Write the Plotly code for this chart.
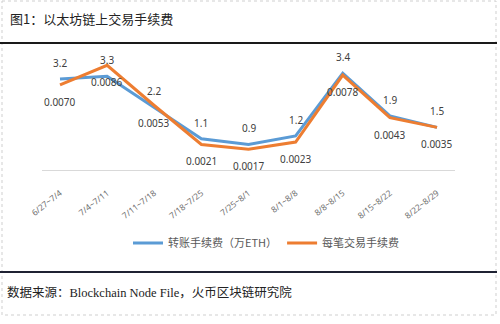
import plotly.graph_objects as go

categories = ["6/27~7/4", "7/4~7/11", "7/11~7/18", "7/18~7/25", "7/25~8/1",
              "8/1~8/8", "8/8~8/15", "8/15~8/22", "8/22~8/29"]
transfer_fee = [3.2, 3.3, 2.2, 1.1, 0.9, 1.2, 3.4, 1.9, 1.5]          # 万ETH
per_tx_fee = [0.0070, 0.0086, 0.0053, 0.0021, 0.0017, 0.0023, 0.0078, 0.0043, 0.0035]

BLUE = "#5B9BD5"
ORANGE = "#ED7D31"

W, H = 500, 324
ML, MR, MT, MB = 42, 45, 50, 154
PW = W - ML - MR
PH = H - MT - MB


def px(x):
    return (x - ML) / PW


def py(y):
    return (H - MB - y) / PH


fig = go.Figure()
fig.add_trace(go.Scatter(x=categories, y=transfer_fee, mode="lines",
                         name="转账手续费（万ETH）", yaxis="y",
                         line=dict(color=BLUE, width=3)))
fig.add_trace(go.Scatter(x=categories, y=per_tx_fee, mode="lines",
                         name="每笔交易手续费", yaxis="y2",
                         line=dict(color=ORANGE, width=3)))

annotations = []
lab_font = dict(family="Noto Sans, DejaVu Sans", size=10, color="#404040")
for c, v in zip(categories, transfer_fee):
    annotations.append(dict(x=c, y=v, xref="x", yref="y", text=f"{v:.1f}",
                            showarrow=False, yshift=16, font=lab_font))
for c, v in zip(categories, per_tx_fee):
    annotations.append(dict(x=c, y=v, xref="x", yref="y2", text=f"{v:.4f}",
                            showarrow=False, yshift=-17, font=lab_font))

annotations.append(dict(x=px(8), y=py(18), xref="paper", yref="paper",
                        xanchor="left", yanchor="middle", showarrow=False,
                        text="图1：以太坊链上交易手续费",
                        font=dict(family="Noto Sans CJK SC", size=13, color="#222222")))
annotations.append(dict(x=px(5), y=py(292), xref="paper", yref="paper",
                        xanchor="left", yanchor="middle", showarrow=False,
                        text="数据来源：Blockchain Node File，火币区块链研究院",
                        font=dict(family="Liberation Serif, Noto Sans CJK SC", size=12.5,
                                  color="#222222")))

shapes = [
    dict(type="rect", xref="paper", yref="paper", x0=px(2), x1=px(496), y0=py(1), y1=py(315),
         line=dict(color="#cfcfcf", width=1, dash="dot")),
    dict(type="line", xref="paper", yref="paper", x0=px(0), x1=px(497), y0=py(43), y1=py(43),
         line=dict(color="#1a1a1a", width=2)),
    dict(type="line", xref="paper", yref="paper", x0=px(0), x1=px(497), y0=py(272), y1=py(272),
         line=dict(color="#1f2233", width=2)),
]

fig.update_layout(
    width=W, height=H,
    margin=dict(l=ML, r=MR, t=MT, b=MB),
    paper_bgcolor="white", plot_bgcolor="white",
    showlegend=True,
    legend=dict(orientation="h", x=px(128), y=py(243), xanchor="left", yanchor="middle",
                font=dict(family="Noto Sans CJK SC", size=11, color="#595959"),
                itemwidth=30, bgcolor="rgba(0,0,0,0)"),
    xaxis=dict(type="category", showline=True, linecolor="#d9d9d9", linewidth=1,
               showgrid=False, zeroline=False, ticks="", tickangle=-38,
               tickfont=dict(family="Noto Sans, DejaVu Sans", size=8.5, color="#707070"),
               ticklabelstandoff=14),
    yaxis=dict(range=[0, 4.22], visible=False, showgrid=False, zeroline=False),
    yaxis2=dict(range=[0, 0.00986], overlaying="y", visible=False, showgrid=False,
                zeroline=False),
    annotations=annotations,
    shapes=shapes,
)

fig.write_html("out.html")
